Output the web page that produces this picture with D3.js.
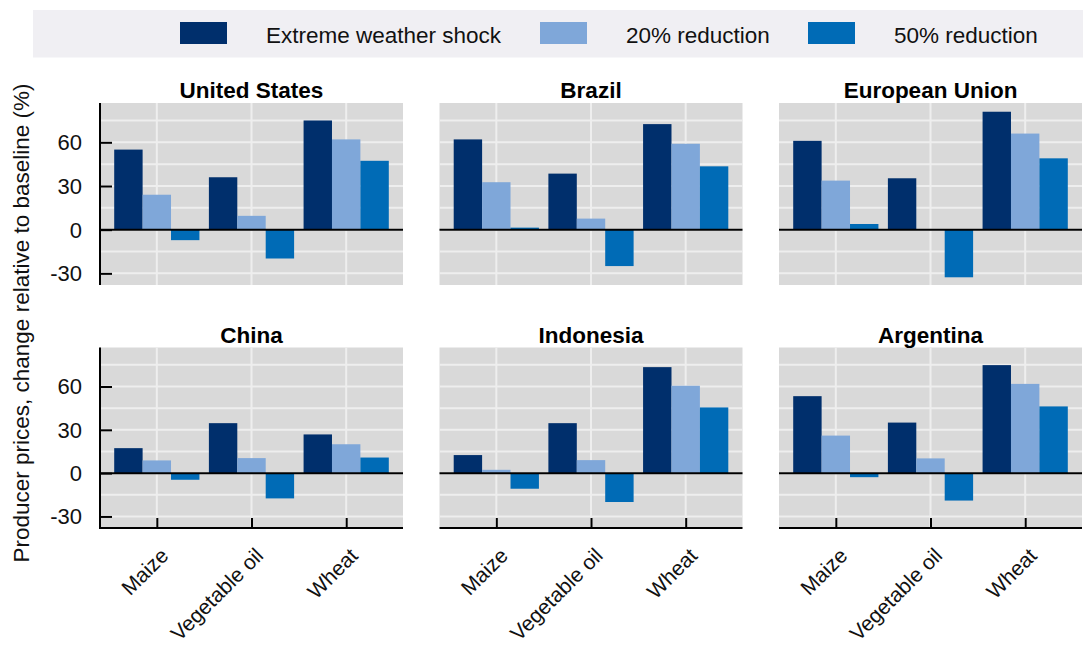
<!DOCTYPE html>
<html>
<head>
<meta charset="utf-8">
<script src="https://cdn.jsdelivr.net/npm/d3@7"></script>
<style>
  html, body { margin: 0; padding: 0; background: #ffffff; }
  svg { display: block; font-family: "Liberation Sans", Arial, sans-serif; }
</style>
</head>
<body>
<svg id="chart" width="1083" height="650"></svg>
<script>
// Panels, categories and scenarios
const countries = ["United States", "Brazil", "European Union", "China", "Indonesia", "Argentina"];
const commodities = ["Maize", "Vegetable oil", "Wheat"];
const scenarios = ["Extreme weather shock", "20% reduction", "50% reduction"];

// Producer price change (%) by country, one entry per commodity [Maize, Vegetable oil, Wheat]
const extremeWeather = [
  [55, 36, 75],
  [62, 38.5, 72.5],
  [61, 35.3, 81],
  [17.3, 34.6, 26.8],
  [12.5, 34.6, 73.4],
  [53.3, 35, 74.8]
];
const reduction20 = [
  [24, 9.5, 62],
  [32.6, 7.6, 59],
  [33.7, 0.3, 66],
  [8.8, 10.4, 20],
  [2.3, 9, 60.5],
  [26, 10.2, 61.8]
];
const reduction50 = [
  [-7.2, -19.8, 47.3],
  [1.4, -25, 43.5],
  [3.9, -32.7, 49],
  [-4.6, -17.5, 10.8],
  [-10.8, -20, 45.5],
  [-2.8, -19, 46.2]
];

const yTicks = [-30, 0, 30, 60];
const yGrid = [-30, -15, 0, 15, 30, 45, 60, 75];
const yDomain = [-38, 87];

const colors = ["#002F6C", "#7FA7D9", "#006BB6"];
const seriesData = [extremeWeather, reduction20, reduction50];

const svg = d3.select("#chart");

// Legend band
const legend = svg.append("g");
legend.append("rect")
  .attr("x", 33).attr("y", 10).attr("width", 1050).attr("height", 47.5)
  .attr("fill", "#F0EFF3");
const legendX = [180, 540, 808];
scenarios.forEach((s, i) => {
  legend.append("rect")
    .attr("x", legendX[i]).attr("y", 22).attr("width", 47).attr("height", 22)
    .attr("fill", colors[i]);
  legend.append("text")
    .attr("x", legendX[i] + 86).attr("y", 42.5)
    .attr("font-size", 22.5).attr("fill", "#111")
    .text(s);
});

// Shared y-axis title
svg.append("text")
  .attr("transform", "translate(29,323) rotate(-90)")
  .attr("text-anchor", "middle")
  .attr("font-size", 22.5).attr("fill", "#111")
  .text("Producer prices, change relative to baseline (%)");

// Panel layout
const panelLeft = [100, 439.5, 779];
const panelWidth = 303;
const rowTop = [103, 347.5];
const rowBottom = [285, 528];

countries.forEach((country, ci) => {
  const row = Math.floor(ci / 3), col = ci % 3;
  const x0 = panelLeft[col], x1 = x0 + panelWidth;
  const y0 = rowTop[row], y1 = rowBottom[row];

  const y = d3.scaleLinear().domain(yDomain).range([y1, y0]);
  const x = d3.scalePoint().domain(commodities).range([x0, x1]).padding(0.6);
  const groupWidth = x.step() * 0.9;
  const xInner = d3.scaleBand().domain(scenarios).range([-groupWidth / 2, groupWidth / 2]).padding(0);

  const g = svg.append("g");

  // background
  g.append("rect")
    .attr("x", x0).attr("y", y0).attr("width", panelWidth).attr("height", y1 - y0)
    .attr("fill", "#D9D9D9");

  // gridlines
  g.selectAll(".hgrid").data(yGrid).join("line")
    .attr("x1", x0).attr("x2", x1)
    .attr("y1", d => y(d)).attr("y2", d => y(d))
    .attr("stroke", "#EEEEEE").attr("stroke-width", 2);
  g.selectAll(".vgrid").data(commodities).join("line")
    .attr("x1", d => x(d)).attr("x2", d => x(d))
    .attr("y1", y0).attr("y2", y1)
    .attr("stroke", "#EEEEEE").attr("stroke-width", 2);

  // bars
  scenarios.forEach((s, si) => {
    const vals = seriesData[si][ci];
    g.selectAll(null).data(commodities).join("rect")
      .attr("x", (d) => x(d) + xInner(s))
      .attr("width", xInner.bandwidth())
      .attr("y", (d, k) => y(Math.max(0, vals[k])))
      .attr("height", (d, k) => Math.abs(y(vals[k]) - y(0)))
      .attr("fill", colors[si]);
  });

  // zero line
  g.append("line")
    .attr("x1", x0).attr("x2", x1)
    .attr("y1", y(0)).attr("y2", y(0))
    .attr("stroke", "#000").attr("stroke-width", 2);

  // title
  g.append("text")
    .attr("x", (x0 + x1) / 2).attr("y", y0 - 5)
    .attr("text-anchor", "middle")
    .attr("font-size", 22.5).attr("font-weight", "bold").attr("fill", "#000")
    .text(country);

  // left axis for first column
  if (col === 0) {
    const yAxis = d3.axisRight(y).tickValues(yTicks).tickSize(12).tickFormat("");
    const ax = g.append("g").attr("transform", `translate(${x0},0)`).call(yAxis);
    ax.select(".domain").remove();
    ax.selectAll(".tick line").attr("stroke", "#000").attr("stroke-width", 2);
    g.append("line")
      .attr("x1", x0).attr("x2", x0).attr("y1", y0).attr("y2", y1)
      .attr("stroke", "#000").attr("stroke-width", 2);
    g.selectAll(".ylab").data(yTicks).join("text")
      .attr("x", x0 - 18).attr("y", d => y(d) + 8)
      .attr("text-anchor", "end")
      .attr("font-size", 22).attr("fill", "#111")
      .text(d => d);
  }

  // bottom axis for lower row
  if (row === 1) {
    const xAxis = d3.axisTop(x).tickSize(10).tickFormat("");
    const ax = g.append("g").attr("transform", `translate(0,${y1})`).call(xAxis);
    ax.select(".domain").remove();
    ax.selectAll(".tick line").attr("stroke", "#000").attr("stroke-width", 2);
    g.append("line")
      .attr("x1", x0 - (col === 0 ? 1 : 0)).attr("x2", x1).attr("y1", y1).attr("y2", y1)
      .attr("stroke", "#000").attr("stroke-width", 2);
    g.selectAll(".xlab").data(commodities).join("text")
      .attr("transform", d => `translate(${x(d) + 13},${y1 + 29}) rotate(-45)`)
      .attr("text-anchor", "end")
      .attr("font-size", 21).attr("fill", "#111")
      .text(d => d);
  }
});
</script>
</body>
</html>
